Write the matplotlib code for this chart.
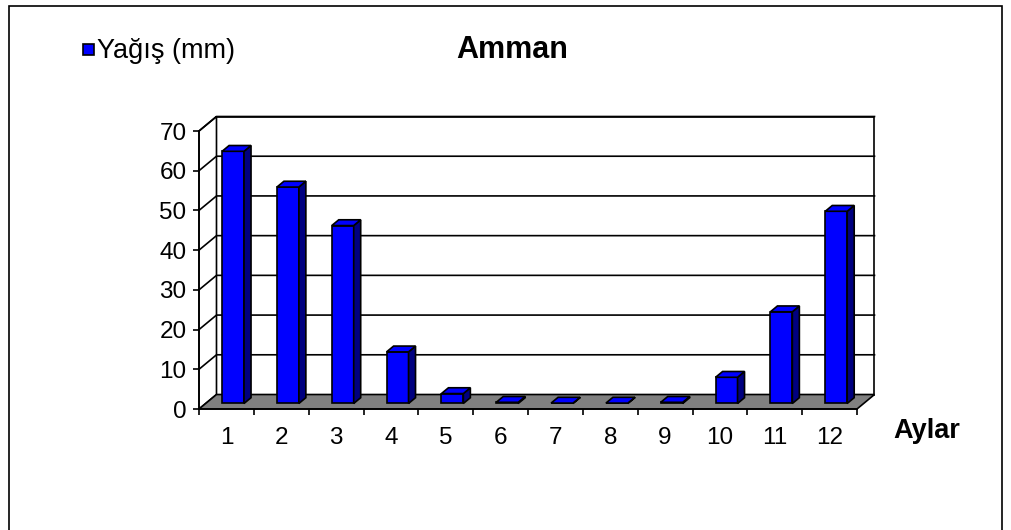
import matplotlib
matplotlib.use("Agg")
import matplotlib.pyplot as plt
from matplotlib.patches import Polygon, Rectangle

plt.rcParams["font.family"] = ["Liberation Sans", "DejaVu Sans"]

months = ["1", "2", "3", "4", "5", "6", "7", "8", "9", "10", "11", "12"]
rain = [63.5, 54.5, 44.8, 13.0, 2.5, 0.3, 0.1, 0.1, 0.3, 6.6, 23.1, 48.4]
yticks = [0, 10, 20, 30, 40, 50, 60, 70]

W, H = 1011, 530
fig = plt.figure(figsize=(W / 100, H / 100), dpi=100)
ax = fig.add_axes([199 / W, (H - 409) / H, 658 / W, 278 / H])
ax.set_xlim(0, len(months))
ax.set_ylim(0, 70)
ax.patch.set_visible(False)

# oblique depth offset in data units (3D look)
DX, DY = 0.319, 3.65


def P(x, y, z):
    return (x + z * DX, y + z * DY)


def face(pts, fc, z=1):
    ax.add_patch(Polygon(pts, closed=True, facecolor=fc, edgecolor="black",
                         linewidth=1.2, clip_on=False, zorder=z, joinstyle="miter"))


n = len(months)
top = yticks[-1]
# walls and floor
face([P(0, 0, 1), P(n, 0, 1), P(n, top, 1), P(0, top, 1)], "white", 1)
face([P(0, 0, 0), P(0, 0, 1), P(0, top, 1), P(0, top, 0)], "white", 1)
for v in yticks[1:]:
    xs, ys = zip(P(0, v, 0), P(0, v, 1), P(n, v, 1))
    ax.plot(xs, ys, color="black", lw=1.2, clip_on=False, zorder=2)
face([P(0, 0, 0), P(n, 0, 0), P(n, 0, 1), P(0, 0, 1)], "#808080", 3)

# bars
z0, z1 = 0.38, 0.78
for i, v in enumerate(rain):
    x0, x1 = i + 0.3, i + 0.7
    face([P(x0, 0, z0), P(x1, 0, z0), P(x1, v, z0), P(x0, v, z0)], "#0000ff", 4)
    face([P(x1, 0, z0), P(x1, 0, z1), P(x1, v, z1), P(x1, v, z0)], "#000080", 4)
    face([P(x0, v, z0), P(x1, v, z0), P(x1, v, z1), P(x0, v, z1)], "#0000ff", 4)

for s in ["top", "right"]:
    ax.spines[s].set_visible(False)
for s in ["left", "bottom"]:
    ax.spines[s].set_linewidth(1.2)
    ax.spines[s].set_zorder(5)

ax.set_yticks(yticks)
ax.set_yticklabels([str(t) for t in yticks], fontsize=17.5)
ax.set_xticks(range(n + 1))
ax.set_xticklabels([])
ax.set_xticks([i + 0.5 for i in range(n)], minor=True)
ax.set_xticklabels(months, minor=True, fontsize=17.5)
ax.tick_params(axis="y", direction="out", length=4, width=1.2, pad=5)
ax.tick_params(axis="x", which="major", direction="out", length=4, width=1.2)
ax.tick_params(axis="x", which="minor", length=0, pad=13)

fig.text(512 / W, 1 - 50 / H, "Amman", fontsize=22, fontweight="bold",
         ha="center", va="center")
fig.text(893 / W, 1 - 431 / H, "Aylar", fontsize=19.5, fontweight="bold",
         ha="left", va="center")
fig.patches.append(Rectangle((83 / W, 1 - 55 / H), 11 / W, 11 / H,
                             transform=fig.transFigure, figure=fig,
                             facecolor="#0000ff", edgecolor="black", lw=1.2))
fig.text(97 / W, 1 - 51 / H, "Yağış (mm)", fontsize=19.5, ha="left", va="center")

# chart area border
fig.patches.append(Rectangle((9 / W, -0.1), 993 / W, 1.1 - 6 / H,
                             transform=fig.transFigure, figure=fig,
                             facecolor="none", edgecolor="black", lw=1.2))

fig.savefig("out.png", dpi=100)
